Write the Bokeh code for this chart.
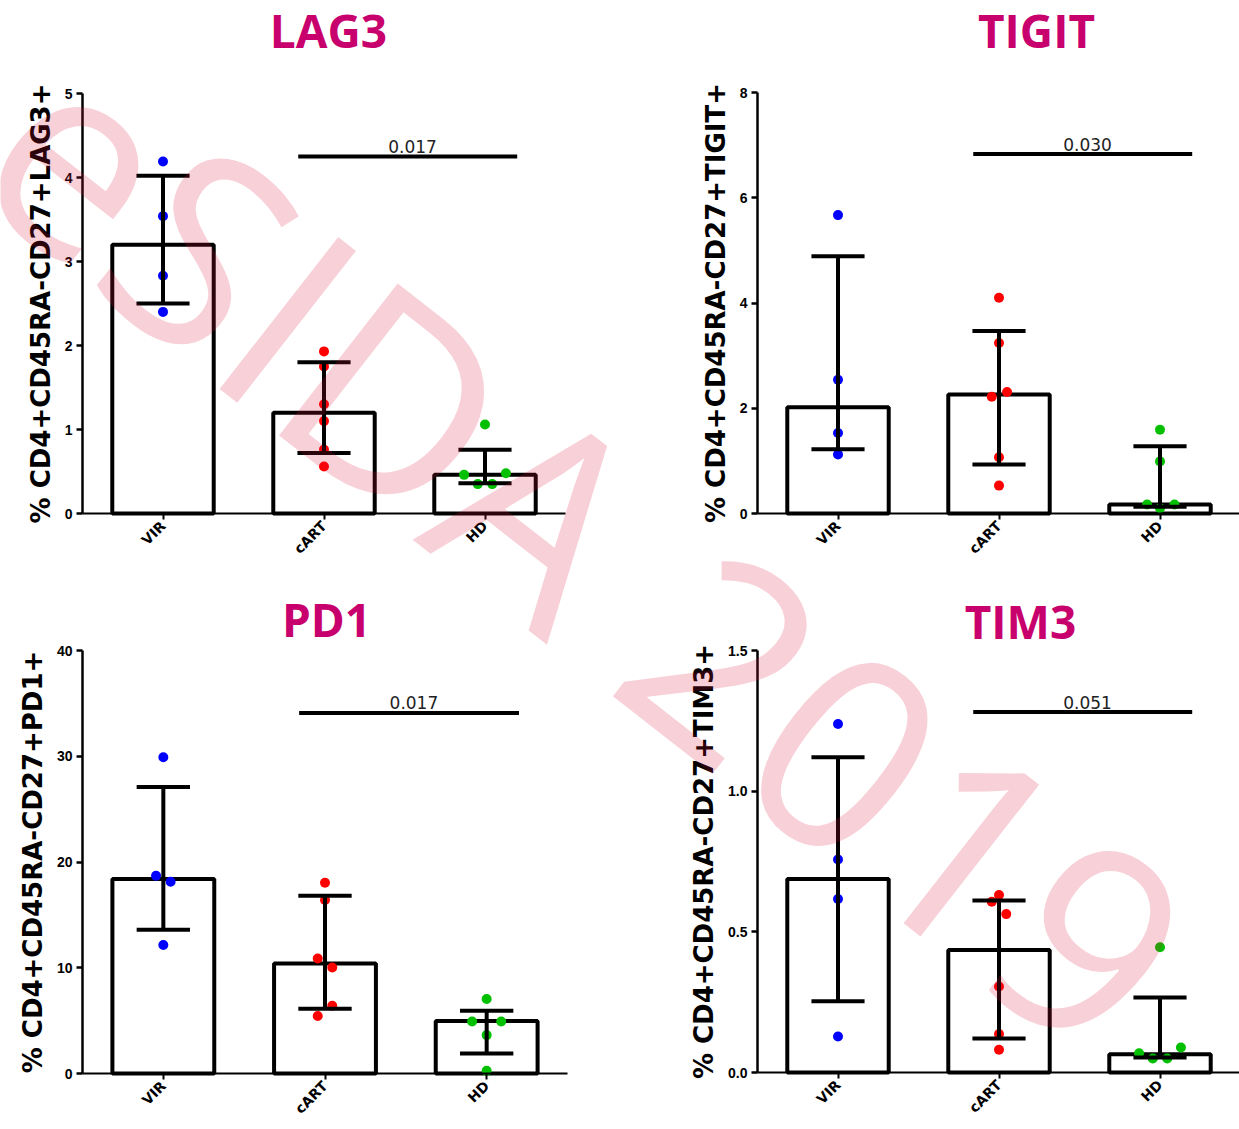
import math
from bokeh.plotting import figure
from bokeh.models import Range1d, FixedTicker, Label, LinearAxis
from bokeh.core.properties import value
from bokeh.embed import file_html
from bokeh.resources import INLINE

# ---------------- data ----------------
categories = ["VIR", "cART", "HD"]
group_colors = ["#0000FF", "#FF0000", "#00C000"]

panel_titles = ["LAG3", "TIGIT", "PD1", "TIM3"]
y_axis_labels = [
    "% CD4+CD45RA-CD27+LAG3+",
    "% CD4+CD45RA-CD27+TIGIT+",
    "% CD4+CD45RA-CD27+PD1+",
    "% CD4+CD45RA-CD27+TIM3+",
]
y_max = [5, 8, 40, 1.5]
y_ticks = [[0, 1, 2, 3, 4, 5], [0, 2, 4, 6, 8], [0, 10, 20, 30, 40], [0, 0.5, 1.0, 1.5]]
y_tick_labels = [["0", "1", "2", "3", "4", "5"], ["0", "2", "4", "6", "8"],
                 ["0", "10", "20", "30", "40"], ["0.0", "0.5", "1.0", "1.5"]]

# LAG3
lag3_vir = [4.19, 3.54, 2.83, 2.40]
lag3_cart = [1.93, 1.75, 1.30, 1.10, 0.76, 0.56]
lag3_hd = [1.06, 0.46, 0.48, 0.35, 0.35]
lag3_bar = [3.20, 1.20, 0.46]
lag3_err_lo = [2.50, 0.72, 0.36]
lag3_err_hi = [4.02, 1.80, 0.76]
lag3_sig_y = 4.25
lag3_p = "0.017"

# TIGIT
tigit_vir = [5.67, 2.54, 1.53, 1.12]
tigit_cart = [4.10, 3.24, 2.31, 2.22, 1.07, 0.53]
tigit_hd = [1.59, 0.99, 0.17, 0.10, 0.17]
tigit_bar = [2.02, 2.26, 0.17]
tigit_err_lo = [1.22, 0.93, 0.13]
tigit_err_hi = [4.89, 3.47, 1.28]
tigit_sig_y = 6.83
tigit_p = "0.030"

# PD1
pd1_vir = [29.9, 18.70, 18.14, 12.15]
pd1_cart = [18.04, 16.40, 10.88, 10.03, 6.40, 5.43]
pd1_hd = [7.04, 4.92, 4.92, 3.63, 0.25]
pd1_bar = [18.39, 10.41, 4.96]
pd1_err_lo = [13.6, 6.12, 1.90]
pd1_err_hi = [27.1, 16.8, 5.93]
pd1_sig_y = 34.1
pd1_p = "0.017"

# TIM3
tim3_vir = [1.239, 0.757, 0.617, 0.128]
tim3_cart = [0.631, 0.607, 0.563, 0.306, 0.137, 0.081]
tim3_hd = [0.445, 0.089, 0.068, 0.050, 0.050]
tim3_bar = [0.688, 0.435, 0.065]
tim3_err_lo = [0.253, 0.121, 0.053]
tim3_err_hi = [1.121, 0.611, 0.267]
tim3_sig_y = 1.281
tim3_p = "0.051"

# horizontal jitter of the dots (category units)
lag3_jit = [[0, 0, 0, 0], [0, 0, 0, 0, 0, 0], [0, -0.13, 0.13, -0.045, 0.045]]
tigit_jit = [[0, 0, 0, 0], [0, 0, 0.05, -0.045, 0, 0], [0, 0, -0.08, 0, 0.09]]
pd1_jit = [[0, -0.045, 0.045, 0], [0, 0, -0.045, 0.045, 0.045, -0.045], [0, -0.09, 0.09, 0, 0]]
tim3_jit = [[0, 0, 0, 0], [0, -0.045, 0.045, 0, 0, 0], [0, 0.13, -0.13, -0.045, 0.045]]

panels = [
    dict(groups=[lag3_vir, lag3_cart, lag3_hd], jit=lag3_jit, bar=lag3_bar,
         lo=lag3_err_lo, hi=lag3_err_hi, sig=lag3_sig_y, p=lag3_p),
    dict(groups=[tigit_vir, tigit_cart, tigit_hd], jit=tigit_jit, bar=tigit_bar,
         lo=tigit_err_lo, hi=tigit_err_hi, sig=tigit_sig_y, p=tigit_p),
    dict(groups=[pd1_vir, pd1_cart, pd1_hd], jit=pd1_jit, bar=pd1_bar,
         lo=pd1_err_lo, hi=pd1_err_hi, sig=pd1_sig_y, p=pd1_p),
    dict(groups=[tim3_vir, tim3_cart, tim3_hd], jit=tim3_jit, bar=tim3_bar,
         lo=tim3_err_lo, hi=tim3_err_hi, sig=tim3_sig_y, p=tim3_p),
]

# ---------------- layout (page pixels, origin top-left) ----------------
W, H = 1239, 1129
# panel plot area: left, top, right, bottom
GEOM = [
    (82, 93, 565, 513),
    (757, 92, 1240, 513),
    (82, 650, 567, 1073),
    (757, 650, 1240, 1072),
]
TITLE_POS = [(328, 29), (1036, 29), (326, 618), (1020, 620)]
WATERMARK_POS = (590, 545)
TITLE_COLOR = "#C8006E"

centers = [0.5, 1.5, 2.5]

p = figure(width=W, height=H, output_backend="svg", toolbar_location=None,
           x_range=Range1d(0, W), y_range=Range1d(0, H),
           x_axis_type=None, y_axis_type=None,
           min_border_left=0, min_border_right=0, min_border_top=0, min_border_bottom=0)
p.outline_line_color = None
p.grid.visible = False
p.background_fill_color = "white"
p.border_fill_color = "white"

for i in range(4):
    fl, ft, fr, fb = GEOM[i]
    d = panels[i]
    ym = y_max[i]
    xs_ = -fl / (fr - fl) * 3.0
    xe_ = xs_ + W / (fr - fl) * 3.0
    ys_ = (fb - H) / (fb - ft) * ym
    ye_ = fb / (fb - ft) * ym
    xn, yn = f"x{i}", f"y{i}"
    p.extra_x_ranges[xn] = Range1d(xs_, xe_)
    p.extra_y_ranges[yn] = Range1d(ys_, ye_)
    kw = dict(x_range_name=xn, y_range_name=yn)

    # bars
    p.vbar(x=centers, top=d["bar"], bottom=0, width=0.63, fill_color="white",
           line_color="black", line_width=4, **kw)
    # dots
    for g in range(3):
        xs = [centers[g] + o for o in d["jit"][g]]
        p.scatter(xs, d["groups"][g], size=10, fill_color=group_colors[g],
                  line_color=None, **kw)
    # error bars
    p.segment(x0=centers, y0=d["lo"], x1=centers, y1=d["hi"], line_color="black",
              line_width=4, **kw)
    p.segment(x0=[c - 0.165 for c in centers], y0=d["hi"], x1=[c + 0.165 for c in centers],
              y1=d["hi"], line_color="black", line_width=4, **kw)
    p.segment(x0=[c - 0.165 for c in centers], y0=d["lo"], x1=[c + 0.165 for c in centers],
              y1=d["lo"], line_color="black", line_width=4, **kw)
    # significance bar
    p.segment(x0=[1.34], y0=[d["sig"]], x1=[2.70], y1=[d["sig"]], line_color="black",
              line_width=4, **kw)
    p.text(x=[2.05], y=[d["sig"]], text=[d["p"]], text_align="center",
           text_baseline="middle", y_offset=-10,
           text_font=value("DejaVu Sans"), text_font_size="17px", text_color="#222222", **kw)

    # x axis
    xa = LinearAxis(fixed_location=0, bounds=(0, 3), ticker=FixedTicker(ticks=centers), **kw)
    xa.major_label_overrides = {c: n for c, n in zip(centers, categories)}
    xa.major_label_orientation = math.pi / 4
    xa.major_label_text_font = "DejaVu Sans"
    xa.major_label_text_font_style = "bold"
    xa.major_label_text_font_size = "14px"
    xa.major_label_text_color = "black"
    xa.axis_line_width = 2
    xa.axis_line_color = "black"
    xa.major_tick_line_width = 2
    xa.major_tick_in = 0
    xa.major_tick_out = 6
    xa.minor_tick_line_color = None
    xa.major_label_standoff = 4
    p.add_layout(xa, "below")

    # y axis
    ya = LinearAxis(fixed_location=0, bounds=(0, ym), ticker=FixedTicker(ticks=y_ticks[i]), **kw)
    ya.major_label_overrides = {t: s for t, s in zip(y_ticks[i], y_tick_labels[i])}
    ya.major_label_text_font = "Liberation Sans"
    ya.major_label_text_font_style = "bold"
    ya.major_label_text_font_size = "14px"
    ya.major_label_text_color = "black"
    ya.axis_line_width = 2.5
    ya.axis_line_color = "black"
    ya.major_tick_line_width = 2.5
    ya.major_tick_in = 0
    ya.major_tick_out = 6
    ya.minor_tick_line_color = None
    ya.major_label_standoff = 4
    ya.axis_label = y_axis_labels[i]
    ya.axis_label_text_font = "DejaVu Sans"
    ya.axis_label_text_font_style = "bold"
    ya.axis_label_text_font_size = "26px"
    ya.axis_label_text_color = "black"
    ya.axis_label_standoff = 6
    p.add_layout(ya, "left")

    # title
    tx, ty = TITLE_POS[i]
    p.add_layout(Label(x=tx, y=H - ty, text=panel_titles[i], text_align="center",
                       text_baseline="middle", text_font="Open Sans",
                       text_font_style="bold", text_font_size="46px",
                       text_color=TITLE_COLOR))

# watermark
wx, wy = WATERMARK_POS
p.add_layout(Label(x=wx, y=H - wy, text="eSIDA 2019", angle=-38, angle_units="deg",
                   text_align="center", text_baseline="middle", text_font="Open Sans",
                   text_font_size="270px", text_color="#DC143C", text_alpha=0.2))

open("out.html", "w").write(file_html(p, INLINE))
